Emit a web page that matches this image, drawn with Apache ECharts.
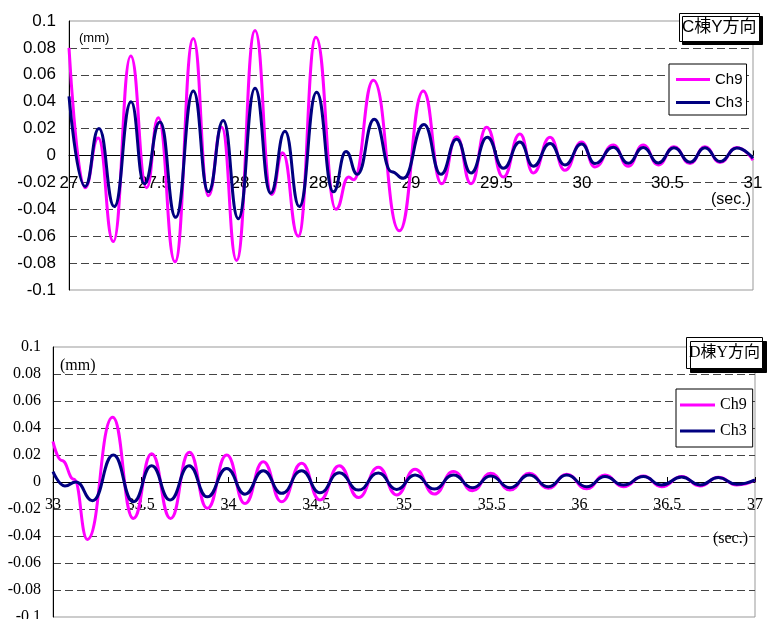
<!DOCTYPE html>
<html><head><meta charset="utf-8">
<script src="https://cdn.jsdelivr.net/npm/echarts@6/dist/echarts.min.js"></script>
<style>html,body{margin:0;padding:0;background:#fff}#c{width:767px;height:619px}</style>
</head><body><div id="c"></div><script>
// ---- Data (C棟Y方向) ----
const cCh9T = [27.0, 27.094, 27.171, 27.259, 27.361, 27.454, 27.522, 27.62, 27.727, 27.815, 27.893, 27.98, 28.088, 28.185, 28.249, 28.341, 28.444, 28.561, 28.635, 28.665, 28.78, 28.932, 29.072, 29.179, 29.267, 29.351, 29.442, 29.54, 29.637, 29.715, 29.813, 29.9, 29.998, 30.076, 30.183, 30.27, 30.358, 30.446, 30.538, 30.632, 30.719, 30.807, 30.905, 31.0];
const cCh9V = [0.080, -0.024, 0.013, -0.064, 0.074, -0.024, 0.028, -0.079, 0.087, -0.030, 0.021, -0.078, 0.093, -0.029, 0.002, -0.060, 0.088, -0.040, -0.016, -0.018, 0.056, -0.056, 0.048, -0.021, 0.014, -0.021, 0.021, -0.016, 0.016, -0.013, 0.0135, -0.011, 0.010, -0.0085, 0.0078, -0.008, 0.0078, -0.007, 0.0065, -0.006, 0.0065, -0.0052, 0.006, -0.0035];
const cCh3T = [27.0, 27.094, 27.175, 27.265, 27.363, 27.44, 27.532, 27.624, 27.727, 27.815, 27.902, 27.99, 28.088, 28.179, 28.263, 28.347, 28.448, 28.546, 28.62, 28.686, 28.785, 28.887, 28.955, 29.076, 29.175, 29.267, 29.351, 29.446, 29.54, 29.637, 29.715, 29.813, 29.9, 29.998, 30.076, 30.183, 30.27, 30.358, 30.446, 30.538, 30.632, 30.719, 30.807, 30.905, 31.0];
const cCh3V = [0.044, -0.023, 0.020, -0.038, 0.040, -0.021, 0.025, -0.046, 0.048, -0.027, 0.026, -0.047, 0.050, -0.028, 0.018, -0.038, 0.047, -0.027, 0.003, -0.014, 0.027, -0.012, -0.017, 0.023, -0.014, 0.012, -0.013, 0.0135, -0.0095, 0.010, -0.008, 0.009, -0.007, 0.0085, -0.006, 0.0062, -0.0058, 0.006, -0.0055, 0.0058, -0.005, 0.0058, -0.0045, 0.0055, -0.002];

// ---- Data (D棟Y方向) ----
const dCh9T = [33.0, 33.05, 33.12, 33.196, 33.34, 33.458, 33.562, 33.67, 33.777, 33.879, 33.99, 34.094, 34.198, 34.303, 34.417, 34.521, 34.631, 34.74, 34.854, 34.958, 35.063, 35.173, 35.281, 35.391, 35.494, 35.604, 35.714, 35.822, 35.927, 36.041, 36.145, 36.25, 36.364, 36.468, 36.582, 36.687, 36.791, 36.896, 37.0];
const dCh9V = [0.030, 0.016, 0.002, -0.0425, 0.048, -0.027, 0.021, -0.027, 0.022, -0.0195, 0.020, -0.016, 0.015, -0.0146, 0.0138, -0.0133, 0.012, -0.0114, 0.011, -0.0096, 0.0094, -0.0089, 0.0077, -0.0064, 0.0064, -0.0059, 0.0064, -0.0047, 0.0057, -0.005, 0.0052, -0.0035, 0.0044, -0.0035, 0.004, -0.003, 0.0035, -0.0022, 0.0015];
const dCh3T = [33.0, 33.068, 33.131, 33.226, 33.344, 33.458, 33.562, 33.667, 33.775, 33.879, 33.99, 34.094, 34.198, 34.303, 34.417, 34.521, 34.631, 34.74, 34.854, 34.958, 35.063, 35.173, 35.281, 35.391, 35.494, 35.604, 35.714, 35.822, 35.927, 36.041, 36.145, 36.25, 36.364, 36.468, 36.582, 36.687, 36.791, 36.896, 37.0];
const dCh3V = [0.0077, -0.003, 0.000, -0.0138, 0.020, -0.0146, 0.012, -0.0133, 0.012, -0.011, 0.010, -0.009, 0.0084, -0.0084, 0.0084, -0.008, 0.0069, -0.006, 0.0067, -0.0055, 0.0052, -0.0052, 0.0052, -0.0042, 0.0044, -0.0042, 0.0052, -0.0035, 0.0052, -0.0035, 0.004, -0.0022, 0.004, -0.0022, 0.0037, -0.0022, 0.0033, -0.0017, 0.0015];

const seriesNames = ['Ch9', 'Ch3'];
const titleC = 'C棟Y方向';
const titleD = 'D棟Y方向';
const unitY = '(mm)';
const unitX = '(sec.)';

// ---- Styling ----
const SANS = 'Liberation Sans, Arial, sans-serif';
const SERIF = 'Liberation Serif, Times New Roman, serif';
const CJK_SANS = 'Liberation Sans, Noto Sans CJK JP, sans-serif';
const CJK_SERIF = 'Liberation Serif, Noto Sans CJK JP, serif';
const MAG = '#FF00FF', NAVY = '#000080';

const zip = (t, v) => t.map((x, i) => [x, v[i]]);
const yFmt = v => String(Number(v.toFixed(2)));
const xFmt = v => String(Number(v.toFixed(1)));

// x axis drawn across the zero line of its grid (offset moves it up from the grid bottom)
function xAxis(grid, min, max, font, size, margin, offset) {
  return {
    type: 'value', gridIndex: grid, min: min, max: max, interval: 0.5, position: 'bottom', offset: offset,
    axisLine: { show: true, onZero: false, lineStyle: { color: '#000', width: 1 } },
    axisTick: { show: true, inside: true, length: 5, lineStyle: { color: '#000' } },
    splitLine: { show: false },
    axisLabel: { formatter: xFmt, fontFamily: font, fontSize: size, color: '#000', margin: margin, showMinLabel: true, showMaxLabel: true, hideOverlap: false }
  };
}
function yAxis(grid, font, size, margin) {
  return {
    type: 'value', gridIndex: grid, min: -0.1, max: 0.1, interval: 0.02,
    axisLine: { show: true, onZero: false, lineStyle: { color: '#000', width: 1 } },
    axisTick: { show: false },
    splitLine: { show: true, showMinLine: false, showMaxLine: false, lineStyle: { color: '#444', width: 1, type: [8, 4] } },
    axisLabel: { formatter: yFmt, fontFamily: font, fontSize: size, color: '#000', margin: margin }
  };
}
function line(name, data, color, xi) {
  return {
    type: 'line', name: name, xAxisIndex: xi, yAxisIndex: xi, data: data,
    symbol: 'none', smooth: 0.5, smoothMonotone: 'x',
    lineStyle: { color: color, width: 3 }, itemStyle: { color: color }
  };
}

const chart = echarts.init(document.getElementById('c'), null, { renderer: 'canvas' });
chart.setOption({
  animation: false,
  backgroundColor: '#fff',
  grid: [
    { left: 69, top: 21, width: 684, height: 269, show: true, borderColor: '#999', borderWidth: 1, backgroundColor: 'transparent', outerBoundsMode: 'none', containLabel: false },
    { left: 53, top: 347, width: 702, height: 270, show: true, borderColor: '#999', borderWidth: 1, backgroundColor: 'transparent', outerBoundsMode: 'none', containLabel: false }
  ],
  xAxis: [ xAxis(0, 27, 31, SANS, 17, 19, -134.5), xAxis(1, 33, 37, SERIF, 16, 15, -135) ],
  yAxis: [ yAxis(0, SANS, 17, 13), yAxis(1, SERIF, 16, 12) ],
  title: [
    { text: titleC, left: 679, top: 13, padding: [6, 3, 6, 3], borderColor: '#000', borderWidth: 1, backgroundColor: '#fff',
      shadowColor: '#000', shadowOffsetX: 3, shadowOffsetY: 3, shadowBlur: 0,
      textStyle: { fontSize: 17, fontWeight: 'normal', fontFamily: CJK_SANS, color: '#000' } },
    { text: titleD, left: 686, top: 337, padding: [8, 3, 8, 3], borderColor: '#000', borderWidth: 1, backgroundColor: '#fff',
      shadowColor: '#000', shadowOffsetX: 4, shadowOffsetY: 4, shadowBlur: 0,
      textStyle: { fontSize: 16, fontWeight: 'normal', fontFamily: CJK_SERIF, color: '#000' } },
    { text: unitY, left: 79, top: 32, padding: 0, textStyle: { fontSize: 13, fontWeight: 'normal', fontFamily: SANS, color: '#000' } },
    { text: unitX, right: 16, top: 192, padding: 0, textStyle: { fontSize: 16, fontWeight: 'normal', fontFamily: SANS, color: '#000' } },
    { text: unitY, left: 60, top: 358, padding: 0, textStyle: { fontSize: 16, fontWeight: 'normal', fontFamily: SERIF, color: '#000' } },
    { text: unitX, right: 19, top: 531, padding: 0, textStyle: { fontSize: 16, fontWeight: 'normal', fontFamily: SERIF, color: '#000' } }
  ],
  legend: [
    { data: seriesNames, orient: 'vertical', left: 669, top: 64, icon: 'rect', itemWidth: 34, itemHeight: 3, itemGap: 8,
      padding: [8, 4, 5, 7], borderColor: '#000', borderWidth: 1, backgroundColor: '#fff',
      textStyle: { fontSize: 15, fontFamily: SANS, color: '#000' } },
    { data: seriesNames, orient: 'vertical', left: 676, top: 389, icon: 'rect', itemWidth: 35, itemHeight: 3, itemGap: 10,
      padding: [8, 6, 8, 4], borderColor: '#000', borderWidth: 1, backgroundColor: '#fff',
      textStyle: { fontSize: 16, fontFamily: SERIF, color: '#000' } }
  ],
  series: [
    line(seriesNames[0], zip(cCh9T, cCh9V), MAG, 0),
    line(seriesNames[1], zip(cCh3T, cCh3V), NAVY, 0),
    line(seriesNames[0], zip(dCh9T, dCh9V), MAG, 1),
    line(seriesNames[1], zip(dCh3T, dCh3V), NAVY, 1)
  ]
});
</script></body></html>
